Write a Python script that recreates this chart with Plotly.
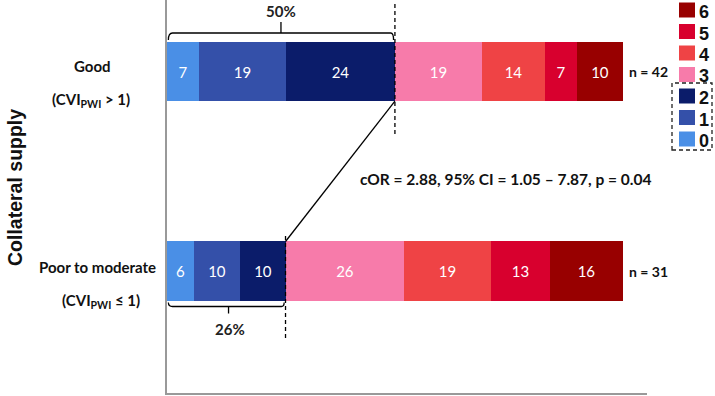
import plotly.graph_objects as go

# ---- data ----
groups = ["Good", "Poor to moderate"]
group_sub = ["(CVI<sub>PWI</sub> > 1)", "(CVI<sub>PWI</sub> ≤ 1)"]
group_pos = [1, 0]
levels = ["0", "1", "2", "3", "4", "5", "6"]
good_vals = [7, 19, 24, 19, 14, 7, 10]
poor_vals = [6, 10, 10, 26, 19, 13, 16]
group_n = ["n = 42", "n = 31"]
colors = ["#4a8fe6", "#3450a9", "#0b1c6a", "#f77baa", "#ef4345", "#d8002e", "#980000"]
stat_text = "cOR = 2.88, 95% CI = 1.05 \u2013 7.87, p = 0.04"

L, R, T, B = 167, 68, 0, 3
W, H = 715, 396
ph = H - T - B
pw = W - L - R
bar_w = 0.296
y_top, y_bot = 1.3584, -0.6115

def py(px):  # pixel y -> data y
    return y_top - (px - T) / ph * (y_top - y_bot)

def ppx(px):  # pixel x -> paper x
    return (px - L) / pw

def ppy(px):  # pixel y -> paper y
    return 1 - (px - T) / ph

BODY = "Lato, 'Open Sans', sans-serif"
ARIAL = "'Liberation Sans', Arial, sans-serif"

fig = go.Figure()
for i, lev in enumerate(levels):
    fig.add_trace(go.Bar(
        orientation="h", y=group_pos, x=[good_vals[i], poor_vals[i]],
        width=bar_w, marker=dict(color=colors[i], line=dict(width=0)),
        text=[str(good_vals[i]), str(poor_vals[i])], textposition="inside",
        insidetextanchor="middle", textangle=0, constraintext="none",
        textfont=dict(color="white", size=15, family=BODY),
        name=lev, showlegend=False, hoverinfo="skip"))

shapes = []
ann = []
half = bar_w / 2
good_cut = sum(good_vals[:3])
poor_cut = sum(poor_vals[:3])
line_k = dict(color="black", width=1.3)

def A(**kw):
    d = dict(showarrow=False, xanchor="center", yanchor="middle")
    d.update(kw)
    ann.append(d)

# top bracket (Good)
yl = 1 + half + 0.045
shapes.append(dict(type="path", xref="x", yref="y",
    path=f"M 0.3,{yl-0.035} Q 0.3,{yl} 1.2,{yl} L {good_cut-0.9},{yl} Q {good_cut-0.3},{yl} {good_cut-0.3},{yl-0.035}",
    line=line_k))
shapes.append(dict(type="line", xref="x", yref="y", x0=good_cut/2, x1=good_cut/2, y0=yl, y1=yl+0.055, line=line_k))
A(x=good_cut/2, y=py(11), xref="x", yref="y", text="<b>50%</b>", font=dict(size=15, family=BODY, color="#222"))
# bottom bracket (Poor)
yb = -half - 0.03
shapes.append(dict(type="path", xref="x", yref="y",
    path=f"M 0.3,{yb+0.02} Q 0.3,{yb} 1.2,{yb} L {poor_cut-0.9},{yb} Q {poor_cut-0.3},{yb} {poor_cut-0.3},{yb+0.02}",
    line=line_k))
shapes.append(dict(type="line", xref="x", yref="y", x0=poor_cut/2+0.5, x1=poor_cut/2+0.5, y0=yb, y1=yb-0.035, line=line_k))
A(x=poor_cut/2+0.8, y=py(329), xref="x", yref="y", text="<b>26%</b>", font=dict(size=15, family=BODY, color="#222"))
# dashed verticals
dash_k = dict(color="black", width=1.3, dash="4px,3px")
shapes.append(dict(type="line", xref="x", yref="y", x0=good_cut, x1=good_cut, y0=py(4), y1=py(136), line=dash_k))
shapes.append(dict(type="line", xref="x", yref="y", x0=poor_cut, x1=poor_cut, y0=py(236), y1=py(339), line=dash_k))
# connecting diagonal
shapes.append(dict(type="line", xref="x", yref="y", x0=good_cut, y0=1 - half, x1=poor_cut, y1=half, line=line_k))

# stats text
A(x=ppx(505), y=py(179), xref="paper", yref="y", text=f"<b>{stat_text}</b>",
  font=dict(size=15.5, family=BODY, color="#111"))
# n labels
for gp, nt in zip(group_pos, group_n):
    A(x=100.9, y=gp, xref="x", yref="y", xanchor="left", text=f"<b>{nt}</b>",
      font=dict(size=14, family=BODY, color="#111"))
# category labels
lab_px = [(92, 66, 91, 100), (97, 267, 101, 301)]
for (x1, y1, x2, y2), g, s in zip(lab_px, groups, group_sub):
    A(x=ppx(x1), y=py(y1), xref="paper", yref="y", text=f"<b>{g}</b>", font=dict(size=15, family=BODY, color="#111"))
    A(x=ppx(x2), y=py(y2), xref="paper", yref="y", text=f"<b>{s}</b>", font=dict(size=15, family=BODY, color="#111"))
# y title
A(x=ppx(15), y=ppy(188), xref="paper", yref="paper", text="<b>Collateral supply</b>", textangle=-90,
  font=dict(size=19.5, family=ARIAL, color="#111"))

# manual legend
leg_rows = [10, 31.5, 53, 74.5, 96, 117.5, 139]
for lev, col, cy in zip(levels[::-1], colors[::-1], leg_rows):
    shapes.append(dict(type="rect", xref="paper", yref="paper", x0=ppx(679), x1=ppx(695),
                       y0=ppy(cy + 7.5), y1=ppy(cy - 7.5), fillcolor=col, line=dict(width=0)))
    A(x=ppx(697), y=ppy(cy + 2), xref="paper", yref="paper", xanchor="left", text=f"<b>{lev}</b>",
      font=dict(size=18, family=ARIAL, color="#111"))
shapes.append(dict(type="rect", xref="paper", yref="paper", x0=ppx(672), x1=ppx(712), y0=ppy(150), y1=ppy(83),
                   line=dict(color="#222", width=1.3, dash="4px,3px"), fillcolor="rgba(0,0,0,0)"))

fig.update_layout(
    width=W, height=H, margin=dict(l=L, r=R, t=T, b=B, pad=0),
    barmode="stack", bargap=0, plot_bgcolor="white", paper_bgcolor="white",
    xaxis=dict(range=[0, 105.3], showgrid=False, zeroline=False, showticklabels=False, ticks="",
               showline=True, linecolor="#999", linewidth=1.5),
    yaxis=dict(range=[y_bot, y_top], showgrid=False, zeroline=False, showticklabels=False, ticks="",
               showline=True, linecolor="#999", linewidth=1.5),
    shapes=shapes, annotations=ann, showlegend=False)
fig.write_html("out.html", config={"displayModeBar": False},
               post_script="document.body.style.margin='0';document.body.style.overflow='hidden';")
